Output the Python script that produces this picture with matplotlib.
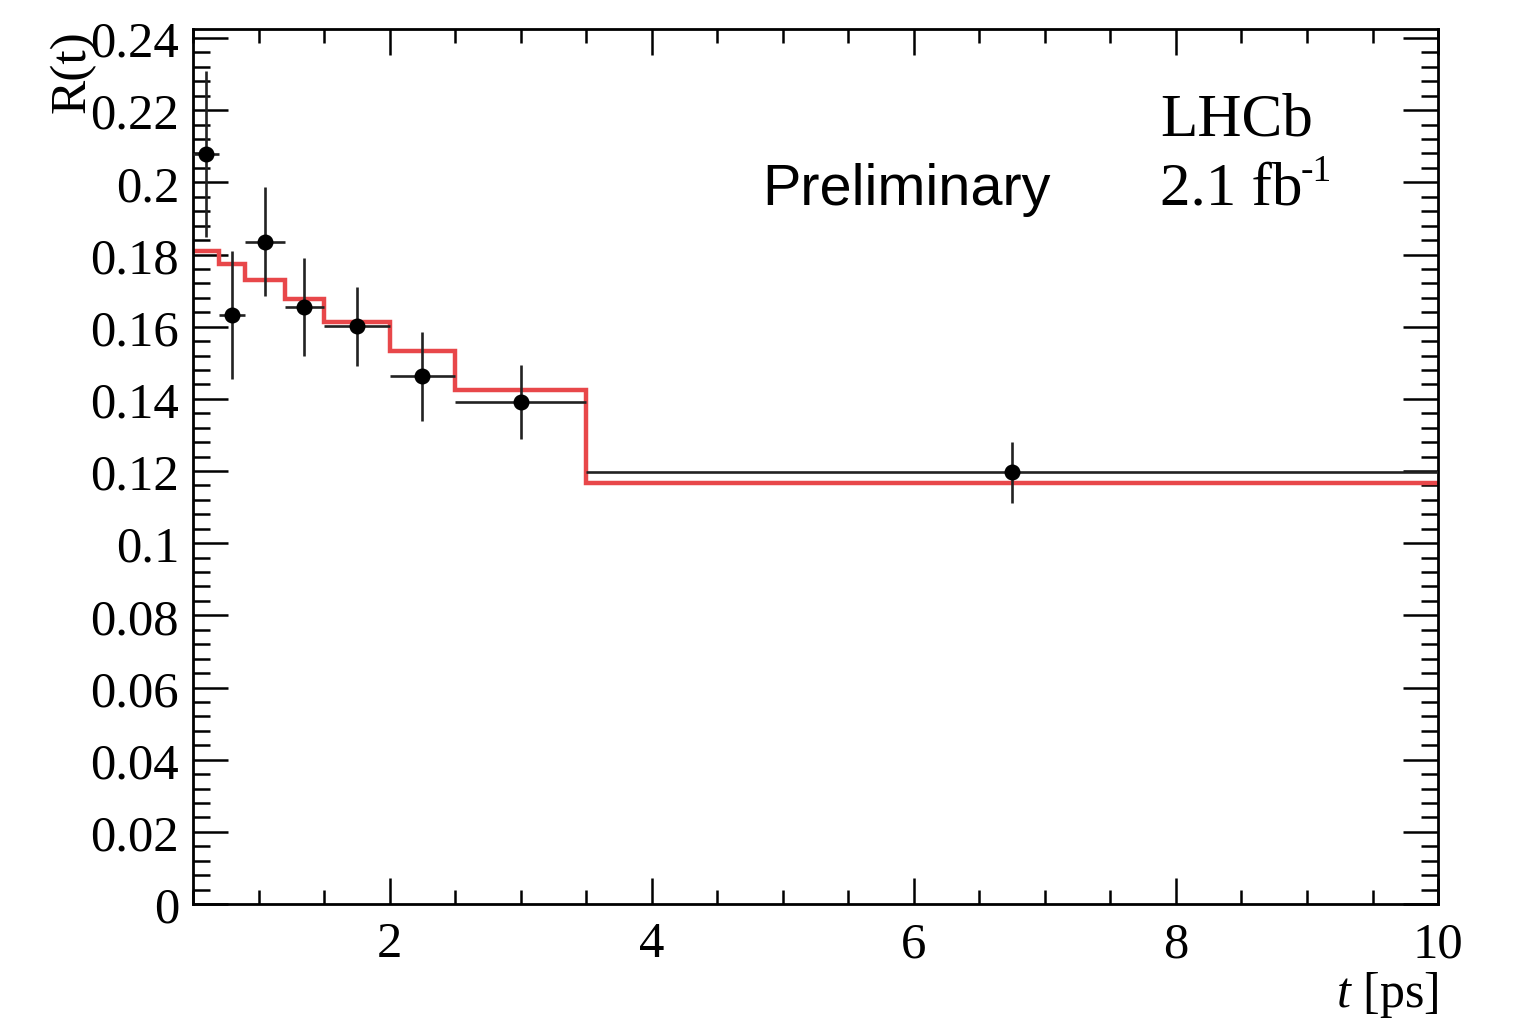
import numpy as np
import matplotlib
matplotlib.use("Agg")
import matplotlib.pyplot as plt
from matplotlib.ticker import MultipleLocator

plt.rcParams["mathtext.fontset"] = "custom"
plt.rcParams["mathtext.rm"] = "Liberation Serif"
plt.rcParams["mathtext.it"] = "Liberation Serif:italic"

# Data
bin_edges = [0.5, 0.7, 0.9, 1.2, 1.5, 2.0, 2.5, 3.5, 10.0]
data_values = [0.2079, 0.1632, 0.1836, 0.1654, 0.1601, 0.1463, 0.1392, 0.1196]
data_errors = [0.023, 0.0178, 0.015, 0.0136, 0.011, 0.0123, 0.0102, 0.0085]
fit_values = [0.1809, 0.1774, 0.1730, 0.1677, 0.1612, 0.1534, 0.1425, 0.1167]

edges = np.array(bin_edges)
centers = 0.5 * (edges[:-1] + edges[1:])
halfw = 0.5 * (edges[1:] - edges[:-1])

fig = plt.figure(figsize=(15.16, 10.20), dpi=100)
ax = fig.add_axes([0.1273, 0.1127, 0.9486 - 0.1273, 0.9706 - 0.1127])

serif = ["Liberation Serif", "DejaVu Serif"]

ax.stairs(fit_values, edges, baseline=None, color="#e8474a", lw=3.2, zorder=2)
ax.errorbar(centers, data_values, xerr=halfw, yerr=data_errors, fmt="o",
            color="black", ecolor="#222222", elinewidth=1.9, capsize=0,
            markersize=10.5, zorder=3)

ax.set_xlim(0.5, 10)
ax.set_ylim(0, 0.2425)

ax.xaxis.set_major_locator(MultipleLocator(2))
ax.xaxis.set_minor_locator(MultipleLocator(0.5))
ax.yaxis.set_major_locator(MultipleLocator(0.02))
ax.yaxis.set_minor_locator(MultipleLocator(0.004))

ax.tick_params(which="both", direction="in", top=True, right=True, width=1.8)
ax.tick_params(axis="x", which="major", length=19, pad=12)
ax.tick_params(axis="x", which="minor", length=10)
ax.tick_params(axis="y", which="major", length=25, pad=10)
ax.tick_params(axis="y", which="minor", length=12)
for s in ax.spines.values():
    s.set_linewidth(2)

def yfmt(v, pos):
    s = f"{v:.2f}".rstrip("0").rstrip(".")
    return s if s else "0"
ax.yaxis.set_major_formatter(plt.FuncFormatter(yfmt))
ax.xaxis.set_major_formatter(plt.FuncFormatter(lambda v, p: f"{v:g}"))

for lab in ax.get_xticklabels() + ax.get_yticklabels():
    lab.set_fontfamily(serif)
    lab.set_fontsize(36.5)

ax.set_ylabel("R(t)", fontsize=37, family=serif, loc="top", labelpad=-4)

fig.text(1438 / 1516, 1 - 1007 / 1020, r"$\mathit{t}$ [ps]", fontsize=36, family=serif,
         ha="right", va="baseline")

fig.text(1160 / 1516, 1 - 135 / 1020, "LHCb", fontsize=44, family=serif, ha="left", va="baseline")
fig.text(1160 / 1516, 1 - 205 / 1020, "2.1 fb", fontsize=44, family=serif,
         ha="left", va="baseline")
fig.text(1301 / 1516, 1 - 181 / 1020, "-1", fontsize=27, family=serif,
         ha="left", va="baseline")
fig.text(762 / 1516, 1 - 205 / 1020, "Preliminary", fontsize=41.5,
         family=["Liberation Sans", "DejaVu Sans"], ha="left", va="baseline")

fig.savefig("out.png", dpi=100)
